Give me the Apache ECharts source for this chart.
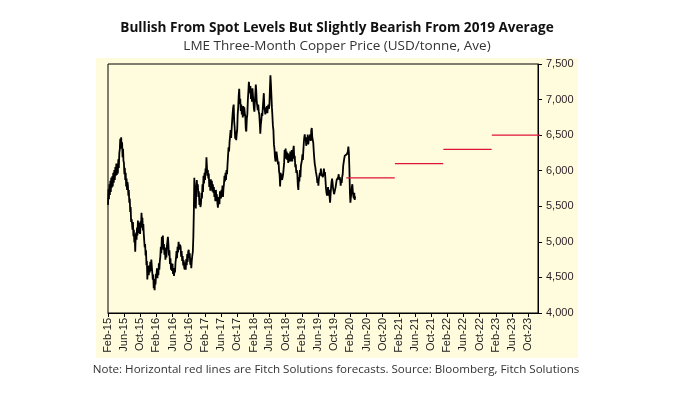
<!DOCTYPE html>
<html>
<head>
<meta charset="utf-8">
<script src="https://cdn.jsdelivr.net/npm/echarts@6/dist/echarts.min.js"></script>
<style>
html,body{margin:0;padding:0;background:#fff;}
#chart{width:680px;height:395px;}
</style>
</head>
<body>
<div id="chart"></div>
<script>
// ---------- DATA ----------
const titleText = 'Bullish From Spot Levels But Slightly Bearish From 2019 Average';
const subtitleText = 'LME Three-Month Copper Price (USD/tonne, Ave)';
const noteText = 'Note: Horizontal red lines are Fitch Solutions forecasts. Source: Bloomberg, Fitch Solutions';

const tickLabels = ['Feb-15','Jun-15','Oct-15','Feb-16','Jun-16','Oct-16','Feb-17','Jun-17','Oct-17',
  'Feb-18','Jun-18','Oct-18','Feb-19','Jun-19','Oct-19','Feb-20','Jun-20','Oct-20','Feb-21','Jun-21',
  'Oct-21','Feb-22','Jun-22','Oct-22','Feb-23','Jun-23','Oct-23'];

const axisStart = [2015, 2, 1];
const axisEnd = [2023, 12, 15];

// Daily-ish readings, one inner array per month (2015 starts in February)
const copper2015 = [
  [5520,5740,5600,5810,5660,5860,5700,5900],
  [5760,5920,5780,5970,5830,6010,5870,6050],
  [5930,6100,5940,6080,5960,6160,6040,6250],
  [6300,6450,6340,6470,6310,6400,6190,6310,6140],
  [6110,5950,6040,5870,5970,5780,5890,5730,5840],
  [5790,5650,5730,5550,5610,5420,5490,5280,5320],
  [5260,5170,5280,5080,5170,4990,5060,4860,5070],
  [5130,5030,5200,5090,5300,5120,5270,5130,5190],
  [5110,5290,5200,5410,5280,5340,5160,5250,5110],
  [5090,4920,4970,4810,4880,4670,4730,4470,4610],
  [4660,4530,4670,4570,4720,4590,4750,4650]
];
const copper2016 = [
  [4630,4470,4540,4350,4430,4320,4480,4400,4550],
  [4510,4630,4490,4620,4530,4700,4610,4730],
  [4790,4930,4840,5070,4950,5090,4890,4970],
  [4820,4920,4750,4870,4780,4940,4940,5070],
  [4970,4810,4880,4690,4770,4610,4700,4590],
  [4690,4550,4630,4520,4610,4570,4710,4770],
  [4870,4770,4930,4850,5000,5000,4890,4960],
  [4930,4790,4870,4730,4800,4670,4740,4640],
  [4610,4710,4610,4760,4670,4830,4720,4860],
  [4890,4770,4840,4680,4770,4630,4740,4810],
  [4860,5060,5410,5900,5510,5660,5470,5790],
  [5870,5730,5810,5630,5710,5520,5610,5490]
];
const copper2017 = [
  [5530,5690,5610,5810,5700,5930,5820,5970],
  [5870,6030,5970,6190,6200,5930,6010,5890],
  [5960,5770,5870,5720,5880,5750,5860,5710],
  [5810,5690,5770,5630,5700,5570,5730,5630],
  [5670,5550,5480,5590,5630,5530,5710,5640],
  [5610,5730,5670,5790,5630,5750,5810,5930],
  [5850,5970,5870,6010,5950,6090,6110,6330],
  [6270,6410,6410,6570,6460,6590,6710,6810],
  [6890,6930,6690,6610,6450,6550,6430,6510],
  [6570,6790,6890,7060,7150,6940,7010,6840],
  [6930,6790,6890,6750,6910,6770,6890,6810],
  [6770,6590,6550,6730,6790,6990,7110,7250]
];
const copper2018 = [
  [7230,7090,7190,7010,7110,6970,7160,7050],
  [7030,6870,6830,6970,7090,7210,7110,6970],
  [6990,6850,6930,6830,6790,6670,6520,6650],
  [6710,6810,6770,6890,6990,7090,6890,6850],
  [6790,6890,6810,6910,6810,6890,6930,6870],
  [6930,7160,7340,7210,7190,6890,6770,6630],
  [6570,6370,6310,6190,6130,6170,6270,6210],
  [6210,6090,6130,5990,5950,5780,5970,5990],
  [5950,5870,5870,5950,6030,6110,6290,6190],
  [6310,6170,6270,6150,6250,6110,6230,6170],
  [6130,6270,6130,6230,6290,6130,6230,6250],
  [6350,6170,6210,6050,6090,5970,6010,5950]
];
const copper2019 = [
  [5790,5730,5910,5850,6010,5910,6070,6090],
  [6150,6230,6150,6290,6390,6470,6510,6430],
  [6470,6350,6450,6370,6510,6370,6430,6450],
  [6450,6510,6420,6570,6600,6470,6430,6390],
  [6270,6170,6090,6050,5990,5990,5910,5830],
  [5870,5790,5890,5910,5970,5930,6030,5950],
  [5930,5970,5910,5970,6030,5930,5980,5870],
  [5750,5690,5650,5710,5770,5650,5730,5630],
  [5550,5670,5770,5850,5890,5830,5750,5710],
  [5670,5650,5690,5770,5770,5870,5890,5870],
  [5910,5950,5870,5910,5870,5790,5870,5830],
  [5910,5950,6070,6090,6170,6210,6190,6190]
];
const copper2020 = [
  [6190,6230,6210,6270,6340,6250,6030,5700],
  [5550,5630,5690,5770,5810,5710,5650,5610],
  [5690,5590,5640]
];
const lastDataDay = 10; // data ends early March 2020

const forecastYears = [2020, 2021, 2022, 2023];
const forecastValues = [5900, 6100, 6300, 6500];

// ---------- BUILD ----------
const DAY = 86400000;
const monthNames = ['Jan','Feb','Mar','Apr','May','Jun','Jul','Aug','Sep','Oct','Nov','Dec'];
function ts(y, m, d) { return new Date(y, m - 1, d).getTime(); }

const yearBlocks = [
  {year: 2015, first: 2, months: copper2015},
  {year: 2016, first: 1, months: copper2016},
  {year: 2017, first: 1, months: copper2017},
  {year: 2018, first: 1, months: copper2018},
  {year: 2019, first: 1, months: copper2019},
  {year: 2020, first: 1, months: copper2020}
];
const priceData = [];
yearBlocks.forEach((b, bi) => {
  b.months.forEach((vals, mi) => {
    const m = b.first + mi;
    const isLast = bi === yearBlocks.length - 1 && mi === b.months.length - 1;
    const span = isLast ? lastDataDay : new Date(b.year, m, 0).getDate();
    const step = span / vals.length;
    vals.forEach((v, k) => {
      priceData.push([ts(b.year, m, 1) + k * step * DAY, v]);
    });
  });
});

const tickTimes = tickLabels.map(l => {
  const [mn, yy] = l.split('-');
  return ts(2000 + parseInt(yy, 10), monthNames.indexOf(mn) + 1, 1);
});
const labelMap = {};
tickTimes.forEach((t, i) => { labelMap[t] = tickLabels[i]; });

const forecastSeries = forecastYears.map((y, i) => ({
  type: 'line',
  data: [[ts(y, 1, 1), forecastValues[i]], [ts(y, 12, 31), forecastValues[i]]],
  showSymbol: false,
  symbol: 'none',
  lineStyle: {color: '#E0123A', width: 1.4},
  z: 3,
  silent: true
}));

const chart = echarts.init(document.getElementById('chart'), null, {renderer: 'canvas'});
chart.setOption({
  animation: false,
  backgroundColor: '#ffffff',
  graphic: [
    {type: 'rect', z: -10, silent: true, shape: {x: 96, y: 58, width: 482, height: 300}, style: {fill: '#FFFCDD'}},
    {type: 'text', silent: true, style: {text: titleText, x: 337, y: 28, align: 'center', verticalAlign: 'middle',
      font: 'bold 13.6px "Open Sans"', fill: '#111'}},
    {type: 'text', silent: true, style: {text: subtitleText, x: 337, y: 46, align: 'center', verticalAlign: 'middle',
      font: '13.5px "Open Sans"', fill: '#333'}},
    {type: 'text', silent: true, style: {text: noteText, x: 336, y: 370, align: 'center', verticalAlign: 'middle',
      font: '11.6px "Open Sans"', fill: '#333'}}
  ],
  grid: {left: 108, top: 64, width: 430, height: 249, show: true, borderColor: '#000', borderWidth: 1,
    backgroundColor: 'transparent'},
  xAxis: {
    type: 'value',
    min: ts(axisStart[0], axisStart[1], axisStart[2]),
    max: ts(axisEnd[0], axisEnd[1], axisEnd[2]),
    axisLine: {show: true, lineStyle: {color: '#000', width: 1}},
    axisTick: {show: true, length: 4, inside: false, customValues: tickTimes, lineStyle: {color: '#000'}},
    axisLabel: {
      customValues: tickTimes,
      rotate: 90,
      margin: 5,
      fontSize: 11,
      fontFamily: '"Liberation Sans", Arial, sans-serif',
      color: '#1a1a1a',
      formatter: (v) => {
        if (labelMap[v]) return labelMap[v];
        const d = new Date(v);
        return monthNames[d.getMonth()] + '-' + String(d.getFullYear()).slice(2);
      }
    },
    splitLine: {show: false}
  },
  yAxis: {
    type: 'value',
    position: 'right',
    min: 4000, max: 7500, interval: 500,
    axisLine: {show: true, lineStyle: {color: '#000', width: 1}},
    axisTick: {show: true, length: 4, inside: false, lineStyle: {color: '#000'}},
    axisLabel: {
      margin: 8,
      fontSize: 11,
      fontFamily: '"Liberation Sans", Arial, sans-serif',
      color: '#2b1b24',
      formatter: (v) => v.toLocaleString('en-US')
    },
    splitLine: {show: false}
  },
  series: [
    {
      type: 'line',
      data: priceData,
      showSymbol: false,
      symbol: 'none',
      sampling: null,
      lineStyle: {color: '#000', width: 1.8},
      z: 2,
      silent: true
    }
  ].concat(forecastSeries)
});
</script>
</body>
</html>
